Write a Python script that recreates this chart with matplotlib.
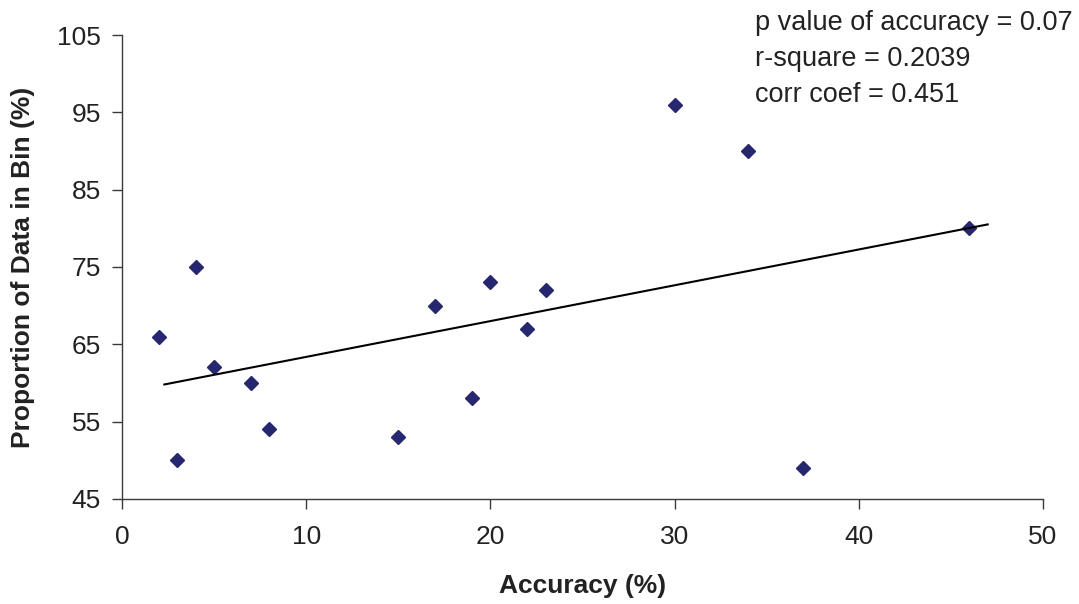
import matplotlib
matplotlib.use('Agg')
import matplotlib.pyplot as plt
import numpy as np

plt.rcParams['font.family'] = ['Liberation Sans', 'DejaVu Sans']

# accuracy (%) vs proportion of data in bin (%)
accuracy = [2, 3, 4, 5, 7, 8, 15, 17, 19, 20, 22, 23, 30, 34, 37, 46]
proportion = [66, 50, 75, 62, 60, 54, 53, 70, 58, 73, 67, 72, 96, 90, 49, 80]
stats_lines = ['p value of accuracy = 0.07', 'r-square = 0.2039', 'corr coef = 0.451']
xticks = [0, 10, 20, 30, 40, 50]
yticks = [45, 55, 65, 75, 85, 95, 105]

fig = plt.figure(figsize=(10.79, 6.04), dpi=100)
ax = fig.add_axes([0.113, 0.174, 0.8536, 0.768])

ax.plot(accuracy, proportion, linestyle='none', marker='D', markersize=7,
        color='#27276f', markeredgecolor='#27276f')

# linear trendline
slope, icpt = np.polyfit(accuracy, proportion, 1)
tx = np.array([2.3, 47])
ax.plot(tx, slope * tx + icpt, color='black', lw=1.5)

ax.set_xlim(0, 50)
ax.set_ylim(45, 105)
ax.set_xticks(xticks)
ax.set_yticks(yticks)
for s in ['top', 'right']:
    ax.spines[s].set_visible(False)
for s in ['left', 'bottom']:
    ax.spines[s].set_color('#3a3a3a')
    ax.spines[s].set_linewidth(1.0)
ax.tick_params(direction='out', length=7, width=1.0, color='#3a3a3a',
               labelsize=19, labelcolor='#222222')
ax.tick_params(axis='x', pad=12)
ax.tick_params(axis='y', pad=8)

ax.set_xlabel('Accuracy (%)', fontsize=19, fontweight='bold', color='#222222', labelpad=18)
ax.set_ylabel('Proportion of Data in Bin (%)', fontsize=19, fontweight='bold', color='#222222', labelpad=16)

for i, line in enumerate(stats_lines):
    fig.text(0.70, 1 - (30 + 36 * i) / 604, line, fontsize=19.5, color='#222222', va='baseline')

fig.savefig('out.png', dpi=100)
